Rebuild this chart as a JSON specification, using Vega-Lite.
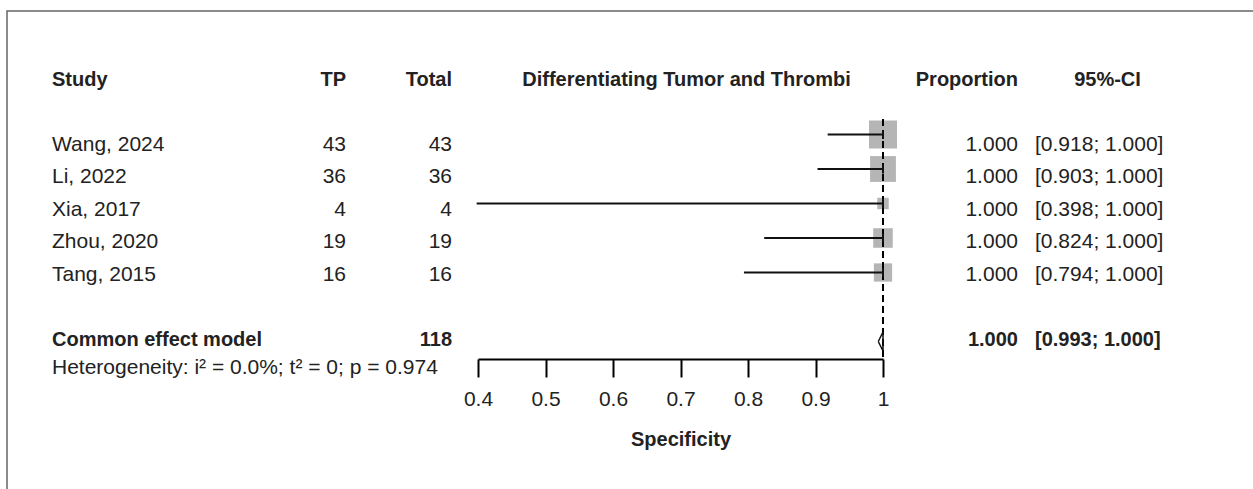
{
  "$schema": "https://vega.github.io/schema/vega-lite/v6.json",
  "width": 1250,
  "height": 482,
  "autosize": {"type": "none"},
  "padding": {"left": 7, "top": 11, "right": -4, "bottom": -4},
  "background": "white",
  "config": {
    "font": "Liberation Sans",
    "view": {"stroke": "#666666", "strokeWidth": 1.5},
    "text": {"font": "Liberation Sans", "fontSize": 21, "color": "#222222", "baseline": "middle"}
  },
  "datasets": {
    "header": [
      {"label": "Study", "col": 0},
      {"label": "TP", "col": 1},
      {"label": "Total", "col": 2},
      {"label": "Differentiating Tumor and Thrombi", "col": 3},
      {"label": "Proportion", "col": 4},
      {"label": "95%-CI", "col": 6}
    ],
    "studies": [
      {"study": "Wang, 2024", "tp": 43, "total": 43, "prop": 1, "lo": 0.918, "hi": 1, "ci": "[0.918; 1.000]", "weight": 36.4, "row": 2},
      {"study": "Li, 2022", "tp": 36, "total": 36, "prop": 1, "lo": 0.903, "hi": 1, "ci": "[0.903; 1.000]", "weight": 30.5, "row": 3},
      {"study": "Xia, 2017", "tp": 4, "total": 4, "prop": 1, "lo": 0.398, "hi": 1, "ci": "[0.398; 1.000]", "weight": 3.4, "row": 4},
      {"study": "Zhou, 2020", "tp": 19, "total": 19, "prop": 1, "lo": 0.824, "hi": 1, "ci": "[0.824; 1.000]", "weight": 16.1, "row": 5},
      {"study": "Tang, 2015", "tp": 16, "total": 16, "prop": 1, "lo": 0.794, "hi": 1, "ci": "[0.794; 1.000]", "weight": 13.6, "row": 6}
    ],
    "summary": [
      {"label": "Common effect model", "total": 118, "prop": 1, "lo": 0.993, "hi": 1, "ci": "[0.993; 1.000]", "row": 8}
    ],
    "diamond": [
      {"x": 0.993, "y": 8, "i": 0},
      {"x": 1, "y": 7.725, "i": 1},
      {"x": 1, "y": 8, "i": 2},
      {"x": 1, "y": 8.275, "i": 3},
      {"x": 0.993, "y": 8, "i": 4}
    ],
    "heterogeneity": [
      {"label": "Heterogeneity: i² = 0.0%; t² = 0; p = 0.974", "row": 9}
    ],
    "reference": [{"ref": 1}]
  },
  "layer": [
    {
      "layer": [
        {
          "data": {"name": "header"},
          "transform": [{"filter": "datum.col == 0"}],
          "mark": {"type": "text", "align": "left", "fontWeight": "bold", "fontSize": 20},
          "encoding": {
            "x": {"field": "col", "type": "quantitative", "scale": {"domain": [0, 1, 2, 3, 4, 5, 6], "range": [45, 339, 445, 679.5, 1011, 1028, 1100.5], "nice": false, "zero": false}, "axis": null},
            "y": {"datum": 0, "type": "quantitative", "scale": {"domain": [0, 9], "range": [68.5, 361], "nice": false, "zero": false}, "axis": null},
            "text": {"field": "label"}
          }
        },
        {
          "data": {"name": "header"},
          "transform": [{"filter": "datum.col == 1 || datum.col == 2 || datum.col == 4"}],
          "mark": {"type": "text", "align": "right", "fontWeight": "bold", "fontSize": 20},
          "encoding": {
            "x": {"field": "col", "type": "quantitative", "axis": null},
            "y": {"datum": 0, "type": "quantitative", "axis": null},
            "text": {"field": "label"}
          }
        },
        {
          "data": {"name": "header"},
          "transform": [{"filter": "datum.col == 3 || datum.col == 6"}],
          "mark": {"type": "text", "align": "center", "fontWeight": "bold", "fontSize": 20},
          "encoding": {
            "x": {"field": "col", "type": "quantitative", "axis": null},
            "y": {"datum": 0, "type": "quantitative", "axis": null},
            "text": {"field": "label"}
          }
        },
        {
          "data": {"name": "studies"},
          "mark": {"type": "text", "align": "left"},
          "encoding": {
            "x": {"datum": 0, "type": "quantitative", "axis": null},
            "y": {"field": "row", "type": "quantitative", "axis": null},
            "text": {"field": "study"}
          }
        },
        {
          "data": {"name": "studies"},
          "mark": {"type": "text", "align": "right"},
          "encoding": {
            "x": {"datum": 1, "type": "quantitative", "axis": null},
            "y": {"field": "row", "type": "quantitative", "axis": null},
            "text": {"field": "tp"}
          }
        },
        {
          "data": {"name": "studies"},
          "mark": {"type": "text", "align": "right"},
          "encoding": {
            "x": {"datum": 2, "type": "quantitative", "axis": null},
            "y": {"field": "row", "type": "quantitative", "axis": null},
            "text": {"field": "total"}
          }
        },
        {
          "data": {"name": "studies"},
          "mark": {"type": "text", "align": "right"},
          "encoding": {
            "x": {"datum": 4, "type": "quantitative", "axis": null},
            "y": {"field": "row", "type": "quantitative", "axis": null},
            "text": {"field": "prop", "format": ".3f"}
          }
        },
        {
          "data": {"name": "studies"},
          "mark": {"type": "text", "align": "left"},
          "encoding": {
            "x": {"datum": 5, "type": "quantitative", "axis": null},
            "y": {"field": "row", "type": "quantitative", "axis": null},
            "text": {"field": "ci"}
          }
        },
        {
          "data": {"name": "summary"},
          "mark": {"type": "text", "align": "left", "fontWeight": "bold", "fontSize": 20},
          "encoding": {
            "x": {"datum": 0, "type": "quantitative", "axis": null},
            "y": {"field": "row", "type": "quantitative", "axis": null},
            "text": {"field": "label"}
          }
        },
        {
          "data": {"name": "summary"},
          "mark": {"type": "text", "align": "right", "fontWeight": "bold", "fontSize": 20},
          "encoding": {
            "x": {"datum": 2, "type": "quantitative", "axis": null},
            "y": {"field": "row", "type": "quantitative", "axis": null},
            "text": {"field": "total"}
          }
        },
        {
          "data": {"name": "summary"},
          "mark": {"type": "text", "align": "right", "fontWeight": "bold", "fontSize": 20},
          "encoding": {
            "x": {"datum": 4, "type": "quantitative", "axis": null},
            "y": {"field": "row", "type": "quantitative", "axis": null},
            "text": {"field": "prop", "format": ".3f"}
          }
        },
        {
          "data": {"name": "summary"},
          "mark": {"type": "text", "align": "left", "fontWeight": "bold", "fontSize": 20},
          "encoding": {
            "x": {"datum": 5, "type": "quantitative", "axis": null},
            "y": {"field": "row", "type": "quantitative", "axis": null},
            "text": {"field": "ci"}
          }
        },
        {
          "data": {"name": "heterogeneity"},
          "mark": {"type": "text", "align": "left", "dy": -4},
          "encoding": {
            "x": {"datum": 0, "type": "quantitative", "axis": null},
            "y": {"field": "row", "type": "quantitative", "axis": null},
            "text": {"field": "label"}
          }
        }
      ]
    },
    {
      "layer": [
        {
          "data": {"name": "studies"},
          "mark": {"type": "point", "shape": "square", "filled": true, "color": "#b5b5b5", "opacity": 1, "strokeWidth": 0},
          "encoding": {
            "x": {
              "field": "prop", "type": "quantitative", "title": "Specificity",
              "scale": {"domain": [0.4, 1], "range": [471, 876], "nice": false, "zero": false},
              "axis": {
                "values": [0.4, 0.5, 0.6, 0.7, 0.8, 0.9, 1],
                "format": "~g",
                "offset": -134,
                "grid": false,
                "domainColor": "#000000",
                "domainWidth": 2,
                "tickColor": "#000000",
                "tickWidth": 2,
                "tickSize": 18,
                "labelFont": "Liberation Sans",
                "labelFontSize": 21,
                "labelColor": "#222222",
                "labelPadding": 11,
                "labelFlush": false,
                "labelOverlap": false,
                "titleFont": "Liberation Sans",
                "titleFontSize": 20,
                "titleFontWeight": "bold",
                "titleColor": "#222222",
                "titlePadding": 20
              }
            },
            "y": {"field": "row", "type": "quantitative", "scale": {"domain": [2, 8], "range": [123.5, 330.5], "nice": false, "zero": false}, "axis": null},
            "size": {"field": "weight", "type": "quantitative", "scale": {"domain": [3.4, 36.4], "range": [132, 784], "zero": false}, "legend": null}
          }
        },
        {
          "data": {"name": "reference"},
          "mark": {"type": "rule", "color": "#000000", "strokeWidth": 2, "strokeDash": [7, 4]},
          "encoding": {
            "x": {"field": "ref", "type": "quantitative", "title": "Specificity"},
            "y": {"datum": 1.55, "type": "quantitative", "axis": null},
            "y2": {"datum": 8.51}
          }
        },
        {
          "data": {"name": "studies"},
          "mark": {"type": "rule", "color": "#111111", "strokeWidth": 2},
          "encoding": {
            "x": {"field": "lo", "type": "quantitative", "title": "Specificity"},
            "x2": {"field": "hi"},
            "y": {"field": "row", "type": "quantitative", "axis": null}
          }
        },
        {
          "data": {"name": "studies"},
          "mark": {"type": "point", "shape": "M0,-1L0,1", "size": 81, "filled": false, "stroke": "#111111", "strokeWidth": 2, "opacity": 1},
          "encoding": {
            "x": {"field": "hi", "type": "quantitative", "title": "Specificity"},
            "y": {"field": "row", "type": "quantitative", "axis": null}
          }
        },
        {
          "data": {"name": "diamond"},
          "mark": {"type": "line", "color": "#111111", "strokeWidth": 1.5},
          "encoding": {
            "x": {"field": "x", "type": "quantitative", "title": "Specificity"},
            "y": {"field": "y", "type": "quantitative", "axis": null},
            "order": {"field": "i", "type": "quantitative"}
          }
        }
      ]
    }
  ],
  "resolve": {"scale": {"x": "independent", "y": "independent"}, "axis": {"x": "independent", "y": "independent"}}
}
